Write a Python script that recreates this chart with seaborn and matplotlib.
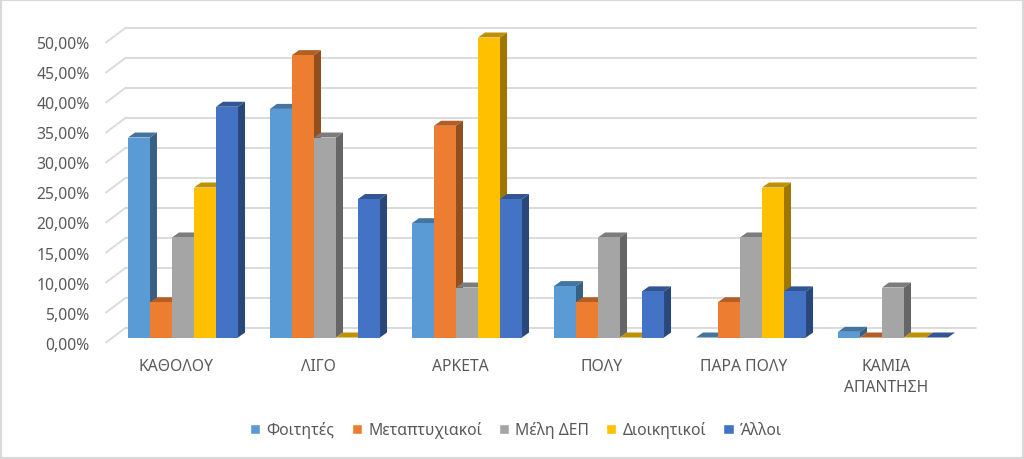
import numpy as np
import pandas as pd
import seaborn as sns
import matplotlib.pyplot as plt
from matplotlib.patches import Polygon, Rectangle
from matplotlib.transforms import ScaledTranslation

categories = ["ΚΑΘΟΛΟΥ", "ΛΙΓΟ", "ΑΡΚΕΤΑ", "ΠΟΛΥ", "ΠΑΡΑ ΠΟΛΥ", "ΚΑΜΙΑ\nΑΠΑΝΤΗΣΗ"]
series_names = ["Φοιτητές", "Μεταπτυχιακοί", "Μέλη ΔΕΠ", "Διοικητικοί", "Άλλοι"]
foitites = [33.33, 38.10, 19.05, 8.57, 0.0, 0.95]
metaptyxiakoi = [5.88, 47.06, 35.29, 5.88, 5.88, 0.0]
meli_dep = [16.67, 33.33, 8.33, 16.67, 16.67, 8.33]
dioikitikoi = [25.0, 0.0, 50.0, 0.0, 25.0, 0.0]
alloi = [38.46, 23.08, 23.08, 7.69, 7.69, 0.0]
colors = ["#5B9BD5", "#ED7D31", "#A5A5A5", "#FFC000", "#4472C4"]
y_ticks = [0, 5, 10, 15, 20, 25, 30, 35, 40, 45, 50]

sns.set_style("white")
plt.rcParams["font.family"] = ["Noto Sans", "DejaVu Sans"]

rows = []
for name, vals in zip(series_names, [foitites, metaptyxiakoi, meli_dep, dioikitikoi, alloi]):
    for cat, v in zip(categories, vals):
        rows.append({"cat": cat, "series": name, "value": v})
df = pd.DataFrame(rows)

W, H = 1024, 460
fig = plt.figure(figsize=(W / 100, H / 100), dpi=100)
# axes box: one category = 142 px, 1% = 6 px
ax = fig.add_axes([112 / W, (H - 338.5) / H, 852 / W, 300 / H])
sns.barplot(data=df, x="cat", y="value", hue="series", palette=colors, saturation=1,
            width=0.775, gap=0, order=categories, hue_order=series_names, ax=ax)
ax.set_xlim(-0.5, 5.5)
ax.set_ylim(0, 50)
ax.set_xlabel("")
ax.set_ylabel("")
sns.despine(ax=ax, left=True, bottom=True)

px_x = 1 / 142
px_y = 1 / 6


def shade(color, f):
    r, g, b = plt.matplotlib.colors.to_rgb(color)
    return (r * f, g * f, b * f)


# 3d look: side and top faces built from the seaborn bars
bar_dx, bar_dy = 7 * px_x, 5 * px_y
for i, cont in enumerate(ax.containers):
    for bar in cont:
        x0, w, h = bar.get_x(), bar.get_width(), bar.get_height()
        x1 = x0 + w
        bar.set_zorder(4 + 2 * i)
        bar.set_linewidth(0)
        top = [(x0, h), (x1, h), (x1 + bar_dx, h + bar_dy), (x0 + bar_dx, h + bar_dy)]
        ax.add_patch(Polygon(top, closed=True, fc=shade(colors[i], 0.75), lw=0,
                             zorder=3 + 2 * i, clip_on=False))
        if h > 0:
            side = [(x1, 0), (x1 + bar_dx, bar_dy), (x1 + bar_dx, h + bar_dy), (x1, h)]
            ax.add_patch(Polygon(side, closed=True, fc=shade(colors[i], 0.62), lw=0,
                                 zorder=3 + 2 * i, clip_on=False))

# gridlines on back wall and floor edge
back_dy = 10 * px_y
for t in y_ticks:
    ax.plot([-0.5 + 14 * px_x, 5.5 + 12 * px_x], [t + back_dy, t + back_dy],
            color="#D9D9D9", lw=1.3, zorder=1, clip_on=False)
    ax.plot([-0.5 - 6 * px_x, -0.5 + 14 * px_x], [t - 5 * px_y, t + back_dy],
            color="#D9D9D9", lw=1.3, zorder=1, clip_on=False)

ax.set_yticks(y_ticks)
ax.set_yticklabels([f"{t:.2f}%".replace(".", ",") for t in y_ticks])
ax.set_xticks(range(len(categories)))
ax.set_xticklabels(categories, linespacing=1.4)
ax.tick_params(axis="y", length=0, pad=16, labelsize=11.3, labelcolor="#595959")
ax.tick_params(axis="x", length=0, pad=15, labelsize=11.3, labelcolor="#595959")
for lab in ax.get_yticklabels():
    lab.set_transform(lab.get_transform() + ScaledTranslation(0, -0.05, fig.dpi_scale_trans))
for lab in ax.get_xticklabels():
    lab.set_transform(lab.get_transform() + ScaledTranslation(-0.07, 0, fig.dpi_scale_trans))

ax.legend(loc="center", bbox_to_anchor=(516 / W, (H - 431) / H), bbox_transform=fig.transFigure,
          ncol=5, frameon=False, fontsize=11.3, labelcolor="#595959", handlelength=0.65,
          handleheight=0.65, handletextpad=0.4, columnspacing=1.08)

# outer frame
fig.add_artist(Rectangle((0, 0), 1, 1, transform=fig.transFigure, fill=False,
                         ec="#D9D9D9", lw=3))

fig.savefig("out.png", dpi=100)
